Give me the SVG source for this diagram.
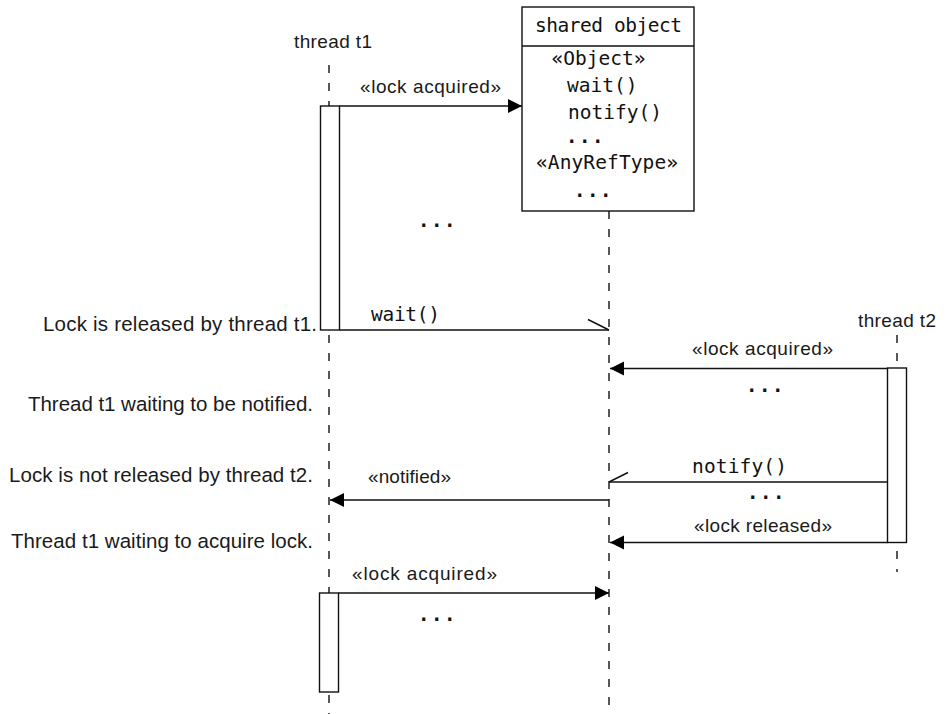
<svg xmlns="http://www.w3.org/2000/svg" width="949" height="714" viewBox="0 0 949 714">
<defs>
<style>
.lbl{font-family:"Liberation Sans",Arial,Helvetica,sans-serif;font-size:19px;fill:#1a1a1a}
.note{font-family:"Liberation Sans",Arial,Helvetica,sans-serif;font-size:20.5px;fill:#1a1a1a}
.mono{font-family:"DejaVu Sans Mono","Liberation Mono",monospace;font-size:19.5px;fill:#111}
.dots{font-family:"DejaVu Sans Mono","Liberation Mono",monospace;font-size:19px;font-weight:bold;fill:#111;letter-spacing:1.5px}
.life{stroke:#111;stroke-width:1.4;stroke-dasharray:8,10;fill:none}
.bar{fill:#fff;stroke:#111;stroke-width:1.4}
.msg{stroke:#111;stroke-width:1.4;fill:none}
</style>
<marker id="arr" markerUnits="userSpaceOnUse" markerWidth="15" markerHeight="15" refX="14" refY="7" orient="auto">
<path d="M0,0 L14,7 L0,14 Z" fill="#000"/>
</marker>
</defs>
<rect width="949" height="714" fill="#fff"/>

<g id="thread-t1">
<text class="lbl" x="294" y="48" textLength="78">thread t1</text>
<line class="life" x1="329" y1="65" x2="329" y2="714"/>
<rect class="bar" x="320.5" y="106" width="19" height="224"/>
<rect class="bar" x="319.5" y="593" width="19" height="99"/>
</g>

<g id="shared-object">
<rect x="522" y="7" width="172" height="204" fill="#fff" stroke="#111" stroke-width="1.4"/>
<line x1="522" y1="46" x2="694" y2="46" stroke="#111" stroke-width="1.4"/>
<text class="mono" x="608.5" y="32" text-anchor="middle" textLength="147">shared object</text>
<text class="mono" x="598.5" y="65" text-anchor="middle">«Object»</text>
<text class="mono" x="567" y="92">wait()</text>
<text class="mono" x="568" y="119">notify()</text>
<text class="dots" x="566" y="143">...</text>
<text class="mono" x="607" y="169" text-anchor="middle" textLength="142">«AnyRefType»</text>
<text class="dots" x="574" y="197">...</text>
<line class="life" x1="609" y1="211" x2="609" y2="714"/>
</g>

<g id="thread-t2">
<text class="lbl" x="858" y="327" textLength="78">thread t2</text>
<line class="life" x1="897" y1="335" x2="897" y2="572"/>
<rect class="bar" x="887.5" y="368" width="19" height="174.5"/>
</g>

<g id="notes">
<text class="note" x="43" y="331" textLength="274">Lock is released by thread t1.</text>
<text class="note" x="28" y="411" textLength="285">Thread t1 waiting to be notified.</text>
<text class="note" x="9" y="482" textLength="304">Lock is not released by thread t2.</text>
<text class="note" x="11" y="548" textLength="302">Thread t1 waiting to acquire lock.</text>
</g>

<g id="connectors">
<line class="msg" x1="339.5" y1="106" x2="522" y2="106" marker-end="url(#arr)"/>
<text class="lbl" x="360" y="93" textLength="141">«lock acquired»</text>
<text class="dots" x="418" y="227">...</text>

<line class="msg" x1="339.5" y1="330" x2="609" y2="330"/>
<line class="msg" x1="609" y1="330" x2="588" y2="319.5"/>
<text class="mono" x="371" y="321" textLength="69">wait()</text>

<line class="msg" x1="887.5" y1="368.5" x2="610" y2="368.5" marker-end="url(#arr)"/>
<text class="lbl" x="692" y="355" textLength="141">«lock acquired»</text>
<text class="dots" x="746" y="392">...</text>

<line class="msg" x1="887.5" y1="482" x2="609" y2="482"/>
<line class="msg" x1="609" y1="482" x2="628" y2="472.5"/>
<text class="mono" x="692" y="473" textLength="95">notify()</text>
<text class="dots" x="747" y="499">...</text>

<line class="msg" x1="609" y1="500" x2="330" y2="500" marker-end="url(#arr)"/>
<text class="lbl" x="368" y="483" textLength="83">«notified»</text>

<line class="msg" x1="887.5" y1="542.5" x2="610" y2="542.5" marker-end="url(#arr)"/>
<text class="lbl" x="694" y="532" textLength="138">«lock released»</text>

<line class="msg" x1="338.5" y1="593" x2="609" y2="593" marker-end="url(#arr)"/>
<text class="lbl" x="352" y="580" textLength="145">«lock acquired»</text>
<text class="dots" x="418" y="621">...</text>
</g>
</svg>
